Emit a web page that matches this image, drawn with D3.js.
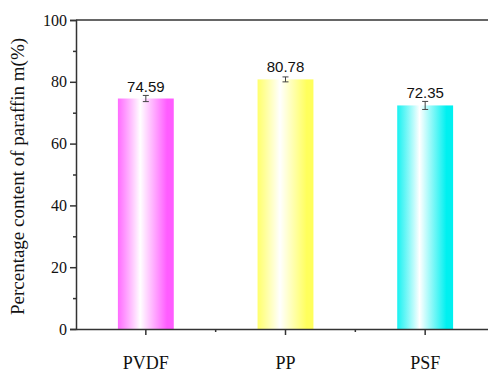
<!DOCTYPE html>
<html>
<head>
<meta charset="utf-8">
<script src="https://cdn.jsdelivr.net/npm/d3@7"></script>
<style>
  body { margin: 0; background: #fff; }
  svg { display: block; }
</style>
</head>
<body>
<script>
var categories = ["PVDF", "PP", "PSF"];
var values = [74.59, 80.78, 72.35];
var errors = [1.0, 0.8, 1.3];
var colors = ["#ff5cff", "#ffff5c", "#00f0f0"];
var yTicks = [0, 20, 40, 60, 80, 100];

var serif = "'Liberation Serif', 'Times New Roman', serif";
var sans = "'Liberation Sans', Arial, sans-serif";

var width = 488, height = 374;
var margin = { top: 20, right: -7, bottom: 45, left: 76 };
var w = width - margin.left - margin.right,
    h = height - margin.top - margin.bottom;

var svg = d3.select("body").append("svg")
    .attr("width", width)
    .attr("height", height);

var defs = svg.append("defs");
colors.forEach(function(c, i) {
  var g = defs.append("linearGradient")
      .attr("id", "grad" + i)
      .attr("x1", "0%").attr("x2", "100%")
      .attr("y1", "0%").attr("y2", "0%");
  g.append("stop").attr("offset", "0%").attr("stop-color", c).attr("stop-opacity", 0.9);
  g.append("stop").attr("offset", "40%").attr("stop-color", "#ffffff");
  g.append("stop").attr("offset", "88%").attr("stop-color", c);
  g.append("stop").attr("offset", "100%").attr("stop-color", c);
});

var chart = svg.append("g")
    .attr("transform", "translate(" + margin.left + "," + margin.top + ")");

var x = d3.scaleBand().domain(categories).range([0, w]).paddingInner(0.6).paddingOuter(0.3);
var y = d3.scaleLinear().domain([0, 100]).range([h, 0]);

// bars
chart.selectAll(".bar")
  .data(values)
  .enter().append("rect")
    .attr("x", function(d, i) { return x(categories[i]); })
    .attr("y", function(d) { return y(d); })
    .attr("width", x.bandwidth())
    .attr("height", function(d) { return h - y(d); })
    .attr("fill", function(d, i) { return "url(#grad" + i + ")"; });

// error bars
var err = chart.selectAll(".err")
  .data(values)
  .enter().append("g")
    .attr("stroke", "#444")
    .attr("stroke-width", 1);
err.append("line")
    .attr("x1", function(d, i) { return x(categories[i]) + x.bandwidth() / 2; })
    .attr("x2", function(d, i) { return x(categories[i]) + x.bandwidth() / 2; })
    .attr("y1", function(d, i) { return y(d - errors[i]); })
    .attr("y2", function(d, i) { return y(d + errors[i]); });
[-1, 1].forEach(function(s) {
  err.append("line")
      .attr("x1", function(d, i) { return x(categories[i]) + x.bandwidth() / 2 - 3; })
      .attr("x2", function(d, i) { return x(categories[i]) + x.bandwidth() / 2 + 3; })
      .attr("y1", function(d, i) { return y(d + s * errors[i]); })
      .attr("y2", function(d, i) { return y(d + s * errors[i]); });
});

// value labels
chart.selectAll(".lbl")
  .data(values)
  .enter().append("text")
    .attr("x", function(d, i) { return x(categories[i]) + x.bandwidth() / 2; })
    .attr("y", function(d) { return y(d) - 7; })
    .attr("text-anchor", "middle")
    .style("font-family", sans)
    .style("font-size", "15px")
    .attr("fill", "#111")
    .text(function(d) { return d.toFixed(2); });

// y axis
var yAxis = chart.append("g")
    .call(d3.axisLeft(y).tickValues(yTicks).tickSize(6).tickPadding(3));
chart.append("g")
    .call(d3.axisLeft(y).tickValues(d3.range(10, 100, 20)).tickSize(3).tickFormat(""))
    .select(".domain").remove();

// x axis
var xAxis = chart.append("g")
    .attr("transform", "translate(0," + h + ")")
    .call(d3.axisBottom(x).tickSize(6).tickPadding(21).tickSizeOuter(0));
var minorX = [0, 1].map(function(i) {
  return (x(categories[i]) + x(categories[i + 1])) / 2 + x.bandwidth() / 2;
});
chart.append("g").selectAll("line")
  .data(minorX)
  .enter().append("line")
    .attr("x1", function(d) { return d; })
    .attr("x2", function(d) { return d; })
    .attr("y1", h).attr("y2", h + 3)
    .attr("stroke", "#333").attr("stroke-width", 1.5);

// top line
chart.append("line")
    .attr("x1", 0).attr("x2", w)
    .attr("y1", 0).attr("y2", 0)
    .attr("stroke", "#333").attr("stroke-width", 1.5);

[yAxis, xAxis].forEach(function(a) {
  a.selectAll(".domain").attr("stroke", "#333").attr("stroke-width", 1.5);
  a.selectAll("text")
    .style("font-family", serif)
    .attr("fill", "#111");
});
yAxis.selectAll("text").style("font-size", "16px");
xAxis.selectAll("text").style("font-size", "18px");
chart.selectAll("g .tick line").attr("stroke", "#333").attr("stroke-width", 1.5);

// y title
svg.append("text")
    .attr("transform", "translate(24," + (margin.top + h / 2 + 2) + ") rotate(-90)")
    .attr("text-anchor", "middle")
    .style("font-family", serif)
    .style("font-size", "19px")
    .attr("fill", "#111")
    .text("Percentage content of paraffin m(%)");
</script>
</body>
</html>
